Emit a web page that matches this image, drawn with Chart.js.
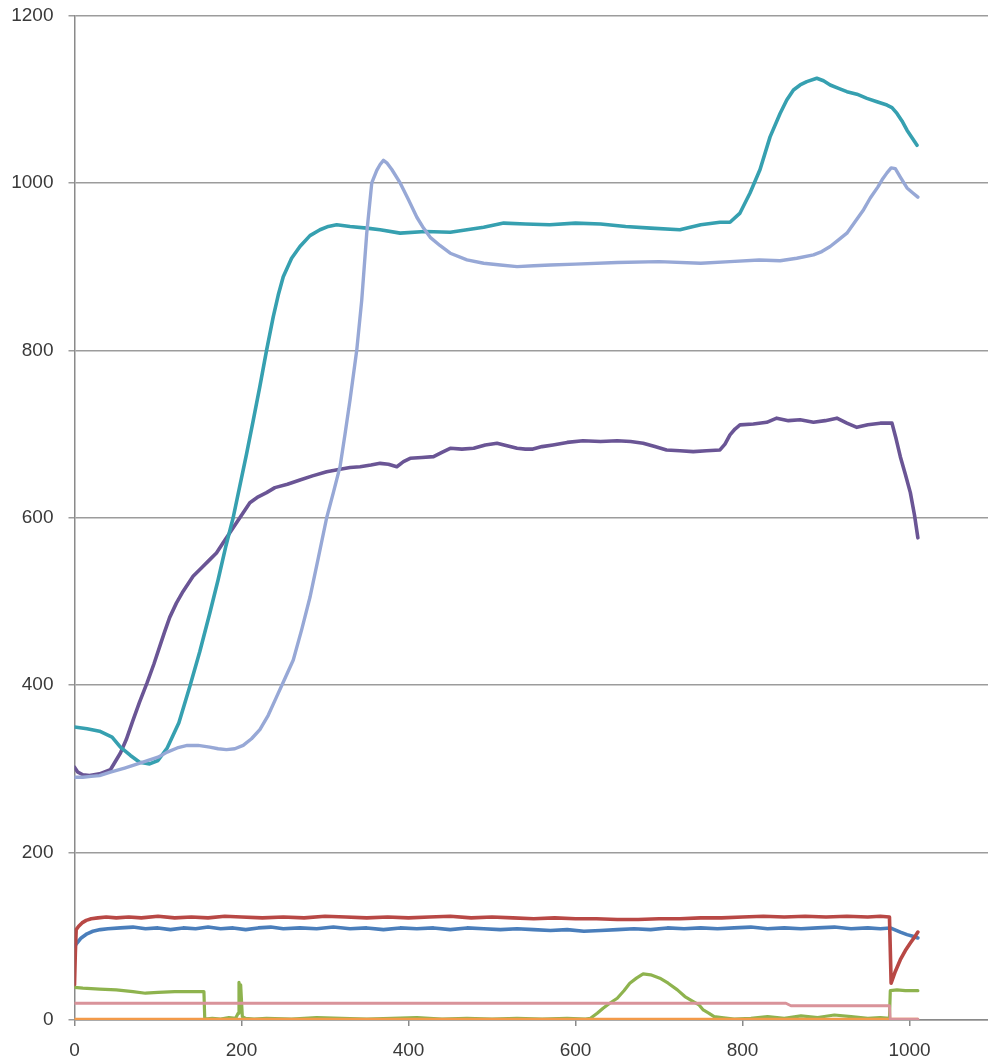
<!DOCTYPE html>
<html>
<head>
<meta charset="utf-8">
<script src="https://cdn.jsdelivr.net/npm/chart.js@4/dist/chart.umd.min.js"></script>
<style>
  html, body { margin: 0; padding: 0; background: #ffffff; }
  #wrap { width: 988px; height: 1062px; }
</style>
</head>
<body>
<div id="wrap"><canvas id="chart" width="988" height="1062"></canvas></div>
<script>
// Axis ticks
const xTicks = [0, 200, 400, 600, 800, 1000];
const yTicks = [0, 200, 400, 600, 800, 1000, 1200];

// Series 1 (blue)
const blueX = [0,3,8,15,22,31,40,55,70,85, 100,115,130,145,160,175,190,205,220,235, 250,270,290,310,330,350,370,390,410,430, 450,470,490,510,530,550,570,590,610,630, 650,670,690,710,730,750,770,790,810,830, 850,870,890,910,930,950,965,977,989,997, 1004,1010];
const blueY = [88,92,98,103,106,108,109,110,111,109, 110,108,110,109,111,109,110,108,110,111, 109,110,109,111,109,110,108,110,109,110, 108,110,109,108,109,108,107,108,106,107, 108,109,108,110,109,110,109,110,111,109, 110,109,110,111,109,110,109,110,105,102, 100,98];

// Series 2 (red)
const redX = [0,1,2,5,9,14,20,28,38,50, 65,80,100,120,140,160,180,200,225,250, 275,300,325,350,375,400,425,450,475,500, 525,550,575,600,625,650,675,700,725,750, 775,800,825,850,875,900,925,950,965,976, 978,983,989,995,1001,1006,1010];
const redY = [42,80,108,112,116,119,121,122,123,122, 123,122,124,122,123,122,124,123,122,123, 122,124,123,122,123,122,123,124,122,123, 122,121,122,121,121,120,120,121,121,122, 122,123,124,123,124,123,124,123,124,123, 44,58,72,83,92,99,105];

// Series 3 (green)
const greenX = [0,10,30,50,70,85,100,120,140,155, 156,165,175,185,193,196,197,198,199,201, 205,215,230,260,290,320,350,380,410,440, 470,500,530,560,590,612,618,626,633,641, 650,658,665,673,681,690,701,711,722,731, 741,748,753,760,766,775,790,810,830,850, 870,890,910,930,950,965,976,977,985,995, 1010];
const greenY = [39,38,37,36,34,32,33,34,34,34, 1,2,1,3,2,8,45,20,42,4, 2,1,2,1,3,2,1,2,3,1, 2,1,2,1,2,1,2,8,14,20, 26,35,44,50,55,54,50,44,36,28, 22,18,12,8,4,3,1,2,4,2, 5,3,6,4,2,3,2,35,36,35, 35];

// Series 4 (purple)
const purpleX = [0,4,10,18,30,43,55,62,70,78, 87,95,102,108,114,122,130,142,152,162, 170,178,186,194,202,210,220,230,240,255, 270,285,302,318,330,342,355,366,376,386, 394,402,416,430,440,450,464,478,492,506, 518,530,540,549,560,573,590,609,630,650, 666,681,695,709,725,741,757,773,779,785, 791,797,813,829,841,855,869,885,899,913, 925,937,950,965,979,984,989,995,1001,1006, 1010];
const purpleY = [302,296,293,292,294,299,319,335,358,380, 403,425,446,464,481,498,512,530,540,550, 558,570,582,594,606,618,625,630,636,640, 645,650,655,658,660,661,663,665,664,661, 667,671,672,673,678,683,682,683,687,689, 686,683,682,682,685,687,690,692,691,692, 691,689,685,681,680,679,680,681,688,699, 706,711,712,714,719,716,717,714,716,719, 713,708,711,713,713,694,673,652,630,603, 576];

// Series 5 (teal)
const tealX = [0,15,30,45,55,67,78,90,100,111, 125,138,150,162,172,181,190,198,206,214, 222,230,238,244,250,260,270,282,294,304, 314,330,350,366,390,420,450,470,490,514, 540,569,600,630,660,690,725,750,773,785, 797,809,821,833,845,853,861,869,877,889, 897,905,915,925,937,949,961,973,979,985, 991,997,1003,1009];
const tealY = [350,348,345,338,326,316,308,306,310,325, 355,398,440,486,526,565,600,638,676,716, 757,800,840,866,888,910,924,937,944,948, 950,948,946,944,940,942,941,944,947,952, 951,950,952,951,948,946,944,950,953,953, 964,988,1016,1055,1083,1099,1111,1117,1121,1125, 1122,1117,1113,1109,1106,1101,1097,1093,1090,1083, 1074,1063,1054,1045];

// Series 6 (orange)
const orangeX = [0,250,500,750,1010];
const orangeY = [1,1,1,1,1];

// Series 7 (light blue)
const lightX = [0,10,20,30,43,60,82,100,111,123, 135,148,162,172,182,192,202,212,222,232, 242,252,262,272,282,292,302,310,318,324, 330,338,344,350,356,362,366,370,374,380, 390,400,410,418,426,438,450,470,490,510, 530,550,570,600,650,700,750,785,820,845, 865,885,895,905,915,925,935,945,953,962, 968,973,978,983,989,997,1004,1010];
const lightY = [290,290,291,292,296,301,308,314,320,325, 328,328,326,324,323,324,328,336,347,364, 386,408,430,466,505,552,600,630,661,700, 741,800,860,940,1000,1015,1022,1027,1024,1016, 1000,980,959,946,935,925,916,908,904,902, 900,901,902,903,905,906,904,906,908,907, 910,914,918,924,932,940,954,968,982,995, 1005,1012,1018,1017,1007,994,988,983];

// Series 8 (pink)
const pinkX = [0,200,400,600,800,852,858,976,977,1010];
const pinkY = [20,20,20,20,20,20,17,17,1,1];

function toPoints(xs, ys) {
  return xs.map((x, i) => ({ x: x, y: ys[i] }));
}

const seriesDefs = [
  { label: 'Series1', xs: blueX,   ys: blueY,   color: '#4A7EBB', width: 3.6 },
  { label: 'Series2', xs: redX,    ys: redY,    color: '#B84845', width: 3.6 },
  { label: 'Series3', xs: greenX,  ys: greenY,  color: '#8EB34E', width: 3.2 },
  { label: 'Series4', xs: purpleX, ys: purpleY, color: '#6A5595', width: 3.6 },
  { label: 'Series5', xs: tealX,   ys: tealY,   color: '#36A0B0', width: 3.6 },
  { label: 'Series6', xs: orangeX, ys: orangeY, color: '#F39A4A', width: 2.8 },
  { label: 'Series7', xs: lightX,  ys: lightY,  color: '#97A8D6', width: 3.4 },
  { label: 'Series8', xs: pinkX,   ys: pinkY,   color: '#D9939A', width: 2.8 }
];

// Later series are painted over earlier ones
const datasets = seriesDefs.map((s, i) => ({
  label: s.label,
  data: toPoints(s.xs, s.ys),
  showLine: true,
  borderColor: s.color,
  backgroundColor: s.color,
  borderWidth: s.width,
  pointRadius: 0,
  fill: false,
  tension: 0,
  order: seriesDefs.length - i
}));

const axisGray = '#8a8a8a';
const tickFont = { family: '"Liberation Sans", Arial, sans-serif', size: 19 };

new Chart(document.getElementById('chart').getContext('2d'), {
  type: 'scatter',
  data: { datasets: datasets },
  options: {
    responsive: false,
    animation: false,
    devicePixelRatio: 1,
    layout: { padding: { top: 15.5, right: 0, bottom: 0, left: 0 } },
    plugins: { legend: { display: false }, tooltip: { enabled: false } },
    elements: { line: { borderJoinStyle: 'round', borderCapStyle: 'round' } },
    scales: {
      x: {
        type: 'linear',
        min: 0,
        max: 1094,
        afterBuildTicks: (scale) => { scale.ticks = xTicks.map(v => ({ value: v })); },
        ticks: { font: tickFont, color: '#3a3a3a', padding: 13, maxRotation: 0, autoSkip: false,
                 callback: (v) => String(v) },
        grid: { drawOnChartArea: false, drawTicks: true, tickLength: 6, color: axisGray, lineWidth: 1.5 },
        border: { color: axisGray, width: 1.5 },
        afterFit: (scale) => { scale.height = 42; scale.paddingLeft = 0; scale.paddingRight = 0; }
      },
      y: {
        type: 'linear',
        min: 0,
        max: 1200,
        afterBuildTicks: (scale) => { scale.ticks = yTicks.map(v => ({ value: v })); },
        ticks: { font: tickFont, color: '#3a3a3a', padding: 15, autoSkip: false,
                 callback: (v) => String(v) },
        grid: { color: '#9c9c9c', lineWidth: 1.5, tickLength: 6, drawTicks: true },
        border: { color: axisGray, width: 1.5 },
        afterFit: (scale) => { scale.width = 74.5; scale.paddingTop = 0; scale.paddingBottom = 0; }
      }
    }
  }
});
</script>
</body>
</html>
